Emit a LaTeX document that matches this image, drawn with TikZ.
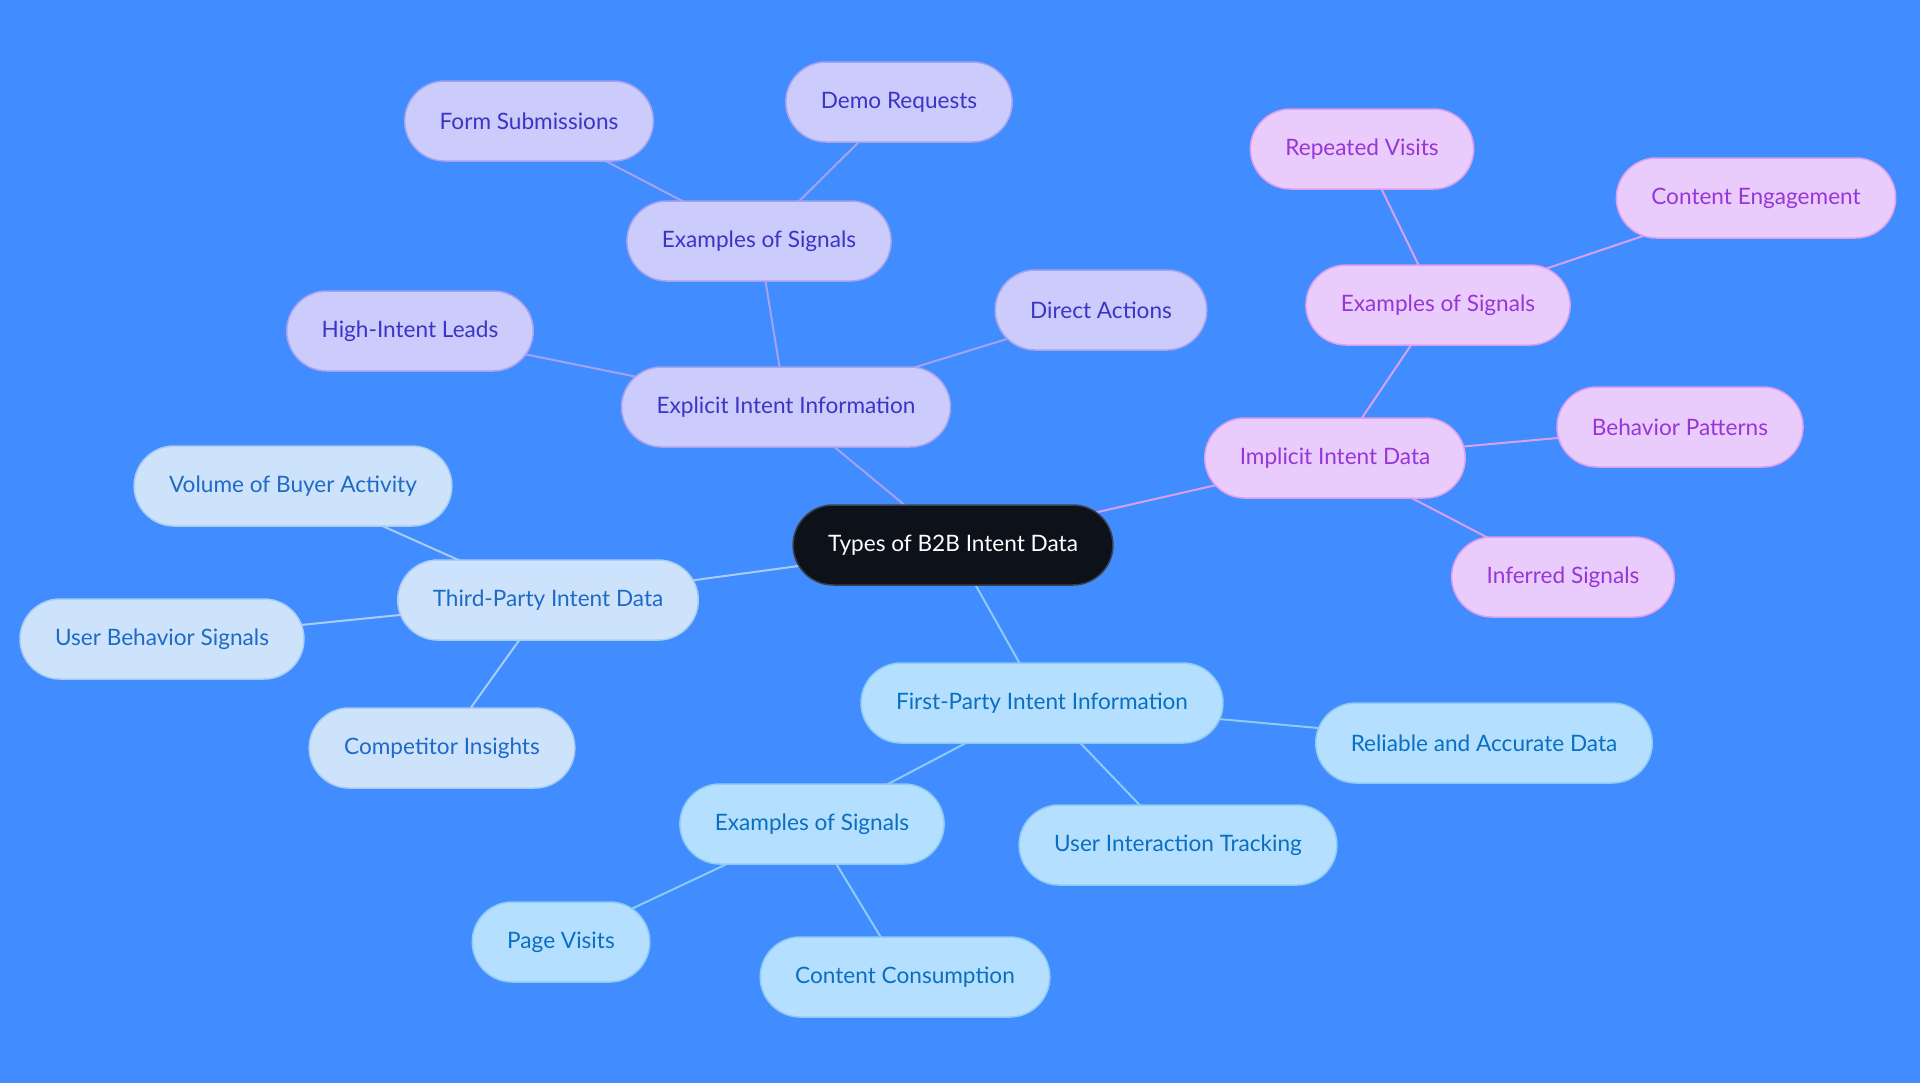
\documentclass[tikz,border=0pt]{standalone}
\usepackage{fontspec}
\setmainfont{Lato}
\usepackage{tikz}
\usetikzlibrary{positioning,backgrounds}
\definecolor{bgblue}{HTML}{418CFF}
\definecolor{rootfill}{HTML}{0D111A}
\definecolor{rootline}{HTML}{3A404C}
\definecolor{explfill}{HTML}{CBCBFC}
\definecolor{explline}{HTML}{A5A2F0}
\definecolor{expltext}{HTML}{3B35C6}
\definecolor{implfill}{HTML}{E9CBFC}
\definecolor{implline}{HTML}{D9A0F0}
\definecolor{impltext}{HTML}{9736D8}
\definecolor{thirdfill}{HTML}{CDE3FB}
\definecolor{thirdline}{HTML}{AACDF5}
\definecolor{thirdtext}{HTML}{1F6AC6}
\definecolor{firstfill}{HTML}{B4DFFF}
\definecolor{firstline}{HTML}{8ECBF5}
\definecolor{firsttext}{HTML}{0A6FC2}
\tikzset{
  mind/.style={rounded corners=20pt, minimum height=40pt, inner xsep=17.5pt,
    line width=0.75pt, font=\fontsize{11.3}{13}\selectfont},
}

\begin{document}
\begin{tikzpicture}[x=0.5pt, y=-0.5pt]
   \useasboundingbox (0,0) rectangle (1920,1083);
   \node[mind, draw=rootline, fill=rootfill, text=white] (r) at (953,545) {Types of B2B Intent Data};
   % explicit branch
   \begin{scope}[every node/.style={mind, draw=explline, fill=explfill, text=expltext}]
    \node (e1) at (786,407) {Explicit Intent Information};
    \node (e2) at (759,241) {Examples of Signals};
    \node (e3) at (529,121) {Form Submissions};
    \node (e4) at (899,102) {Demo Requests};
    \node (e5) at (410,331) {High-Intent Leads};
    \node (e6) at (1101,310) {Direct Actions};
   \end{scope}
   % implicit branch
   \begin{scope}[every node/.style={mind, draw=implline, fill=implfill, text=impltext}]
    \node (i1) at (1335,458) {Implicit Intent Data};
    \node (i2) at (1438,305) {Examples of Signals};
    \node (i3) at (1362,149) {Repeated Visits};
    \node (i4) at (1756,198) {Content Engagement};
    \node (i5) at (1680,427) {Behavior Patterns};
    \node (i6) at (1563,577) {Inferred Signals};
   \end{scope}
   % third-party branch
   \begin{scope}[every node/.style={mind, draw=thirdline, fill=thirdfill, text=thirdtext}]
    \node (t1) at (548,600) {Third-Party Intent Data};
    \node (t2) at (293,486) {Volume of Buyer Activity};
    \node (t3) at (162,639) {User Behavior Signals};
    \node (t4) at (442,748) {Competitor Insights};
   \end{scope}
   % first-party branch
   \begin{scope}[every node/.style={mind, draw=firstline, fill=firstfill, text=firsttext}]
    \node (f1) at (1042,703) {First-Party Intent Information};
    \node (f2) at (1484,743) {Reliable and Accurate Data};
    \node (f3) at (1178,845) {User Interaction Tracking};
    \node (f4) at (812,824) {Examples of Signals};
    \node (f5) at (561,942) {Page Visits};
    \node (f6) at (905,977) {Content Consumption};
   \end{scope}
   \begin{pgfonlayer}{background}
   \fill[bgblue] (0,0) rectangle (1920,1083);
   \begin{scope}[every edge/.style={draw=explline, line width=1pt}]
    \draw (r.center) edge (e1.center);
    \draw (e1.center) edge (e2.center);
    \draw (e2.center) edge (e3.center);
    \draw (e2.center) edge (e4.center);
    \draw (e1.center) edge (e5.center);
    \draw (e1.center) edge (e6.center);
   \end{scope}
   \begin{scope}[every edge/.style={draw=implline, line width=1pt}]
    \draw (r.center) edge (i1.center);
    \draw (i1.center) edge (i2.center);
    \draw (i2.center) edge (i3.center);
    \draw (i2.center) edge (i4.center);
    \draw (i1.center) edge (i5.center);
    \draw (i1.center) edge (i6.center);
   \end{scope}
   \begin{scope}[every edge/.style={draw=thirdline, line width=1pt}]
    \draw (r.center) edge (t1.center);
    \draw (t1.center) edge (t2.center);
    \draw (t1.center) edge (t3.center);
    \draw (t1.center) edge (t4.center);
   \end{scope}
   \begin{scope}[every edge/.style={draw=firstline, line width=1pt}]
    \draw (r.center) edge (f1.center);
    \draw (f1.center) edge (f2.center);
    \draw (f1.center) edge (f3.center);
    \draw (f1.center) edge (f4.center);
    \draw (f4.center) edge (f5.center);
    \draw (f4.center) edge (f6.center);
   \end{scope}
   \end{pgfonlayer}
\end{tikzpicture}
\end{document}
